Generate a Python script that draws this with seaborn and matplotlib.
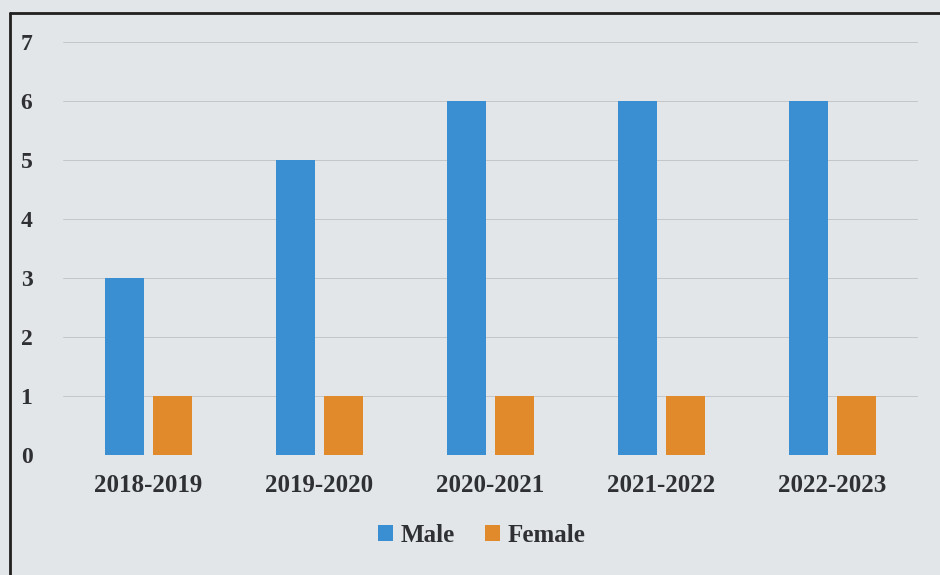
import matplotlib.pyplot as plt
import matplotlib.lines as mlines
import pandas as pd
import seaborn as sns

years = ['2018-2019', '2019-2020', '2020-2021', '2021-2022', '2022-2023']
male = [3, 5, 6, 6, 6]
female = [1, 1, 1, 1, 1]

sns.set_theme(style="white")
plt.rcParams['font.family'] = ['Liberation Serif', 'DejaVu Serif']
plt.rcParams['font.weight'] = 'bold'

bg = '#e3e6e9'
text_col = '#2e3033'

df = pd.DataFrame({'Year': years, 'Male': male, 'Female': female})
df_melted = df.melt(id_vars='Year', var_name='Sex', value_name='Value')

fig = plt.figure(figsize=(9.4, 5.75), dpi=100, facecolor=bg)
ax = fig.add_axes([63 / 940, 1 - 455 / 575, 855 / 940, 413 / 575])
ax.set_facecolor(bg)

sns.barplot(x='Year', y='Value', hue='Sex', data=df_melted, ax=ax,
            palette={'Male': '#3a8fd2', 'Female': '#e08a2c'},
            width=0.56, gap=0.2, saturation=1, linewidth=0, legend=True)

ax.set_ylim(0, 7)
ax.set_xlim(-0.5, 4.5)
ax.set_yticks(range(8))
ax.yaxis.grid(True, color='#c4c7ca', linewidth=0.7)
ax.set_axisbelow(True)
for s in ax.spines.values():
    s.set_visible(False)
ax.set_xlabel('')
ax.set_ylabel('')
ax.tick_params(axis='x', labelsize=18, colors=text_col, pad=14, length=0)
ax.tick_params(axis='y', labelsize=17, colors=text_col, pad=22, length=0)
for lbl in ax.get_xticklabels() + ax.get_yticklabels():
    lbl.set_fontweight('bold')

leg = ax.legend(loc='center', bbox_to_anchor=(0.49, -0.195), ncol=2, frameon=False,
                fontsize=18, handlelength=0.6, handleheight=0.6, handletextpad=0.3,
                columnspacing=1.2)
for t in leg.get_texts():
    t.set_color(text_col)
    t.set_fontweight('bold')

# frame of the printed chart
fig.add_artist(mlines.Line2D([10 / 940, 1], [1 - 13 / 575] * 2, color='#202020', linewidth=2))
fig.add_artist(mlines.Line2D([10 / 940] * 2, [0, 1 - 13 / 575], color='#202020', linewidth=2))

plt.savefig('out.png', dpi=100, facecolor=bg)
plt.close()
